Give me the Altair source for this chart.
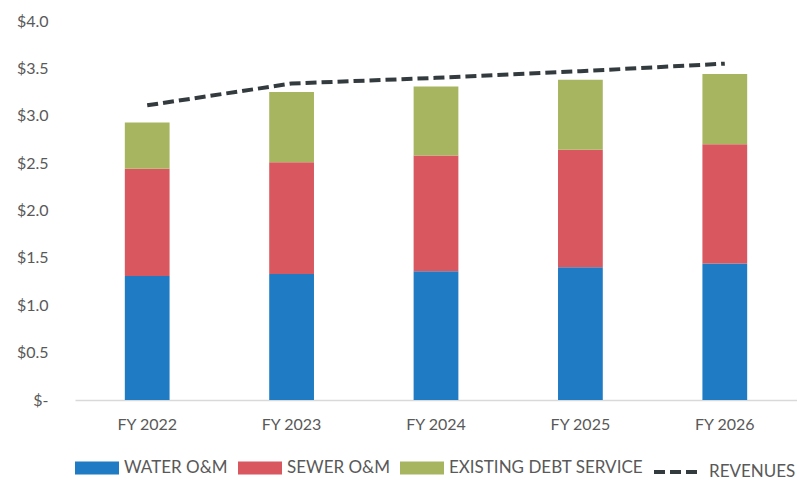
import altair as alt
import pandas as pd

years = ["FY 2022", "FY 2023", "FY 2024", "FY 2025", "FY 2026"]
water = [1.31, 1.33, 1.36, 1.40, 1.44]
sewer = [1.13, 1.18, 1.22, 1.24, 1.26]
debt = [0.49, 0.74, 0.73, 0.74, 0.74]
revenues = [3.11, 3.34, 3.40, 3.47, 3.55]
series = ["WATER O&M", "SEWER O&M", "EXISTING DEBT SERVICE"]
colors = ["#1f7bc4", "#d9575e", "#a8b560"]

rows = []
for i, y in enumerate(years):
    for k, (name, vals) in enumerate(zip(series, [water, sewer, debt])):
        rows.append({"year": y, "series": name, "value": vals[i], "order": k})
bars_df = pd.DataFrame(rows)
line_df = pd.DataFrame({"year": years, "value": revenues, "kind": ["REVENUES"] * len(years)})

font = "Lato"
grey = "#595959"

x = alt.X("year:N", sort=years, title=None,
          scale=alt.Scale(paddingInner=0.69, paddingOuter=0.345),
          axis=alt.Axis(labelAngle=0, ticks=False, domainColor="#d9d9d9", domainWidth=1.5,
                        labelFontSize=16, labelColor=grey, labelFont=font, labelPadding=16))
y = alt.Y("value:Q", title=None, stack="zero",
          scale=alt.Scale(domain=[0, 4]),
          axis=alt.Axis(values=[0, 0.5, 1, 1.5, 2, 2.5, 3, 3.5, 4], grid=False, domain=False, ticks=False,
                        labelExpr="datum.value == 0 ? '$-' : '$' + format(datum.value, '.1f')",
                        labelFontSize=16, labelColor=grey, labelFont=font, labelPadding=27))

bars = alt.Chart(bars_df).mark_bar().encode(
    x=x,
    y=y,
    color=alt.Color("series:N", sort=series,
                    scale=alt.Scale(domain=series, range=colors),
                    legend=alt.Legend(title=None, orient="bottom", direction="horizontal",
                                      symbolType="M-1,-0.29L1,-0.29L1,0.29L-1,0.29Z", symbolSize=1936,
                                      symbolStrokeWidth=0, labelFontSize=17, labelColor=grey, labelFont=font,
                                      columnPadding=10, labelOffset=5, labelLimit=0)),
    order=alt.Order("order:Q", sort="ascending"),
)

line = alt.Chart(line_df).mark_line(color="#333b3f", strokeWidth=4, strokeDash=[9, 5]).encode(
    x=alt.X("year:N", sort=years),
    y=alt.Y("value:Q"),
    strokeDash=alt.StrokeDash("kind:N", scale=alt.Scale(domain=["REVENUES"], range=[[11, 5]]),
                              legend=alt.Legend(title=None, orient="bottom", direction="horizontal",
                                                symbolType="stroke", symbolSize=2304, symbolStrokeWidth=4,
                                                symbolStrokeColor="#333b3f",
                                                labelFontSize=17, labelColor=grey, labelFont=font,
                                                labelOffset=5, labelLimit=0)),
)

chart = alt.layer(bars, line).properties(
    width=722, height=379,
    padding={"left": 8, "top": 5, "right": 0, "bottom": 0},
).configure_view(stroke=None).configure_legend(offset=14)

chart.save("out.html", embed_options={"renderer": "svg", "actions": False})
